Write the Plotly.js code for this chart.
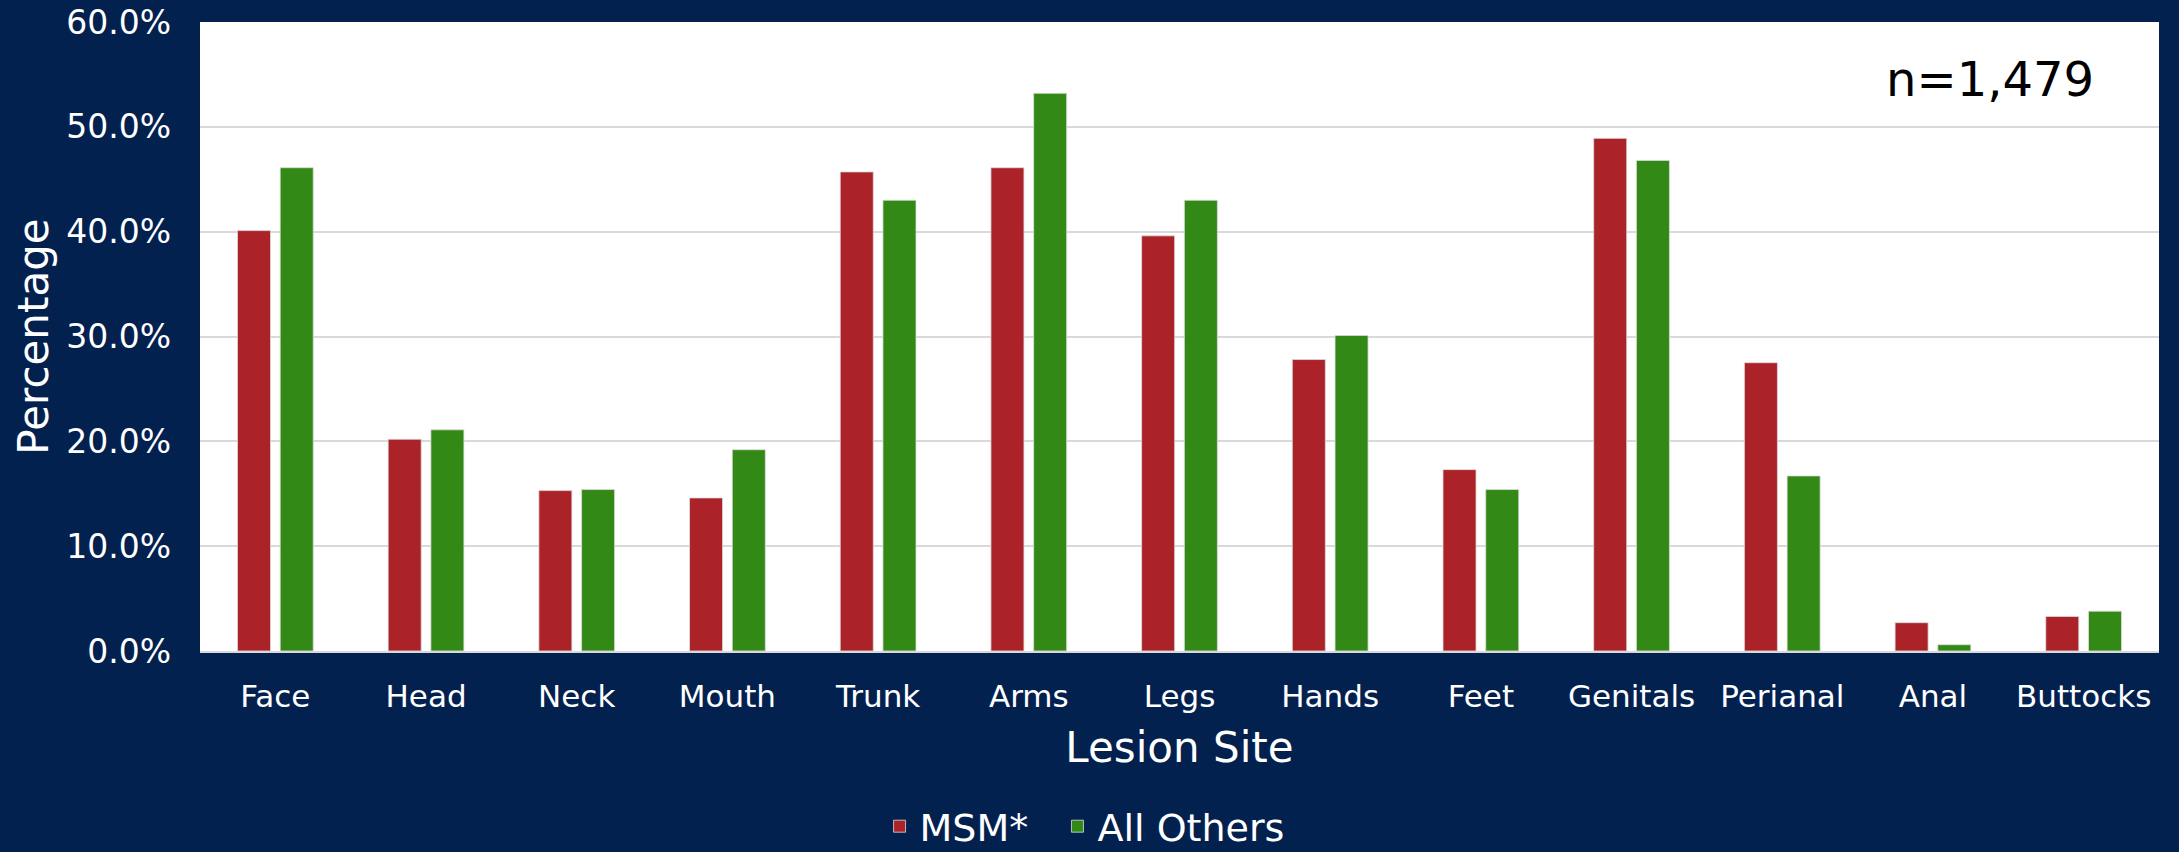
<!DOCTYPE html>
<html>
<head>
<meta charset="utf-8">
<script src="https://cdn.plot.ly/plotly-3.0.1.min.js"></script>
<style>
  html, body { margin: 0; padding: 0; background: #03214F; }
  #chart { width: 2179px; height: 852px; }
</style>
</head>
<body>
<div id="chart"></div>
<script>
const categories = ["Face", "Head", "Neck", "Mouth", "Trunk", "Arms", "Legs", "Hands", "Feet", "Genitals", "Perianal", "Anal", "Buttocks"];
const msmValues = [40.1, 20.2, 15.3, 14.6, 45.7, 46.1, 39.6, 27.8, 17.3, 48.9, 27.5, 2.7, 3.3];
const othersValues = [46.1, 21.1, 15.4, 19.2, 43.0, 53.2, 43.0, 30.1, 15.4, 46.8, 16.7, 0.6, 3.8];
const seriesNames = ["MSM*", "All Others"];
const yTickValues = [0, 10, 20, 30, 40, 50, 60];
const yTickLabels = ["0.0%", "10.0%", "20.0%", "30.0%", "40.0%", "50.0%", "60.0%"];
const sampleLabel = "n=1,479";

const FONT = "DejaVu Sans, Verdana, sans-serif";
const NAVY = "#03214F";

const traces = [
  {
    type: "bar", name: seriesNames[0], x: categories, y: msmValues, legend: "legend",
    marker: { color: "#AB2229", line: { color: "rgba(220,220,220,0.8)", width: 1 } }
  },
  {
    type: "bar", name: seriesNames[1], x: categories, y: othersValues, legend: "legend2",
    marker: { color: "#338916", line: { color: "rgba(220,220,220,0.8)", width: 1 } }
  }
];

const legendCommon = {
  orientation: "h",
  xanchor: "left",
  y: -0.279, yanchor: "middle",
  font: { family: FONT, size: 38, color: "#FFFFFF" },
  bgcolor: "rgba(0,0,0,0)",
  borderwidth: 0
};

const layout = {
  width: 2179, height: 852,
  paper_bgcolor: NAVY,
  plot_bgcolor: "#FFFFFF",
  margin: { l: 200, r: 20, t: 22, b: 201, pad: 0, autoexpand: false },
  barmode: "group",
  bargap: 0.433,
  bargroupgap: 0.227,
  font: { family: FONT, color: "#FFFFFF" },
  xaxis: {
    type: "category",
    tickfont: { family: FONT, size: 31, color: "#FFFFFF" },
    ticks: "", ticklabelstandoff: 17,
    showline: true, linecolor: "#D9D9D9", linewidth: 2,
    showgrid: false,
    title: { text: "Lesion Site", font: { family: FONT, size: 42, color: "#FFFFFF" }, standoff: 19 },
    automargin: false
  },
  yaxis: {
    range: [0, 60],
    tickmode: "array",
    tickvals: yTickValues,
    ticktext: yTickLabels,
    tickfont: { family: FONT, size: 33, color: "#FFFFFF" },
    ticks: "", ticklabelstandoff: 28,
    showgrid: true, gridcolor: "#D9D9D9", gridwidth: 2,
    zeroline: false, showline: false,
    title: { text: "Percentage", font: { family: FONT, size: 42, color: "#FFFFFF" }, standoff: 4 },
    automargin: false
  },
  showlegend: true,
  legend: Object.assign({}, legendCommon, { x: 0.3469 }),
  legend2: Object.assign({}, legendCommon, { x: 0.4377 }),
  annotations: [
    {
      text: sampleLabel, xref: "paper", yref: "paper",
      x: 0.968, y: 0.909, xanchor: "right", yanchor: "middle",
      showarrow: false,
      font: { family: FONT, size: 48, color: "#000000" }
    }
  ]
};

Plotly.newPlot("chart", traces, layout, { displayModeBar: false, staticPlot: true });
</script>
</body>
</html>
